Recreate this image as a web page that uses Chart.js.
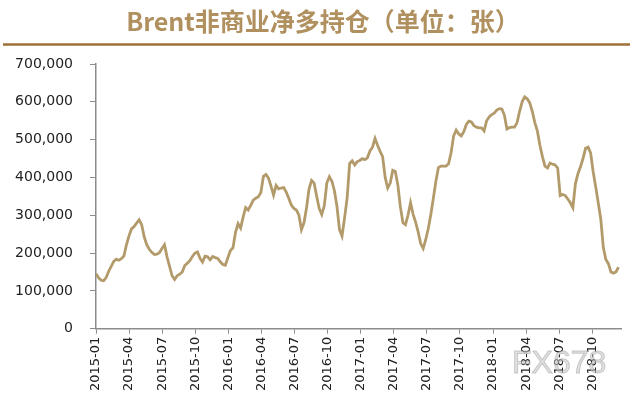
<!DOCTYPE html>
<html>
<head>
<meta charset="utf-8">
<script src="https://cdn.jsdelivr.net/npm/chart.js@4.4.1/dist/chart.umd.min.js"></script>
<style>
  html, body { margin: 0; padding: 0; background: #fff; }
  #wrap { width: 640px; height: 400px; }
</style>
</head>
<body>
<div id="wrap"><canvas id="myChart" width="640" height="400"></canvas></div>
<script>
const titleText = 'Brent非商业净多持仓（单位：张）';
const tickLabels = ['2015-01', '2015-04', '2015-07', '2015-10', '2016-01', '2016-04', '2016-07', '2016-10',
  '2017-01', '2017-04', '2017-07', '2017-10', '2018-01', '2018-04', '2018-07', '2018-10'];
const yTicks = [0, 100000, 200000, 300000, 400000, 500000, 600000, 700000];
// weekly net long positions, first week of 2015-01 onward
const netLong = [
  145000, 135000, 128000, 127000, 135000, 152000, 165000, 178000, 184000, 181000,
  185000, 192000, 222000, 245000, 264000, 270000, 279000, 288000, 275000, 243000,
  222000, 210000, 202000, 196000, 197000, 201000, 212000, 222000, 190000, 165000,
  140000, 130000, 140000, 144000, 150000, 167000, 173000, 180000, 191000, 200000,
  203000, 186000, 176000, 192000, 190000, 182000, 191000, 188000, 186000, 177000,
  170000, 168000, 188000, 207000, 214000, 255000, 278000, 266000, 295000, 320000,
  314000, 326000, 340000, 345000, 349000, 360000, 403000, 408000, 398000, 377000,
  353000, 379000, 370000, 372000, 373000, 361000, 345000, 327000, 318000, 314000,
  300000, 262000, 280000, 320000, 370000, 392000, 385000, 350000, 318000, 302000,
  325000, 385000, 402000, 390000, 365000, 323000, 262000, 245000, 293000, 345000,
  437000, 444000, 433000, 442000, 445000, 450000, 447000, 452000, 470000, 480000,
  503000, 485000, 469000, 455000, 400000, 372000, 385000, 419000, 416000, 380000,
  322000, 280000, 275000, 300000, 333000, 303000, 282000, 256000, 225000, 212000,
  236000, 265000, 302000, 345000, 390000, 426000, 430000, 430000, 430000, 436000,
  466000, 510000, 525000, 515000, 510000, 521000, 540000, 549000, 547000, 537000,
  533000, 531000, 531000, 523000, 550000, 560000, 566000, 570000, 578000, 582000,
  581000, 565000, 528000, 532000, 533000, 533000, 545000, 575000, 600000, 613000,
  608000, 597000, 575000, 545000, 523000, 485000, 455000, 430000, 425000, 438000,
  435000, 433000, 425000, 352000, 355000, 352000, 343000, 333000, 320000, 383000,
  410000, 428000, 450000, 477000, 480000, 465000, 415000, 375000, 333000, 290000,
  215000, 183000, 172000, 150000, 147000, 150000, 163000
];

const DAYS_PER_MONTH = 30.4375;
const points = netLong.map((v, i) => ({ x: i * 7 / DAYS_PER_MONTH, y: v }));

const decor = {
  id: 'decor',
  beforeDraw(chart) {
    const ctx = chart.ctx;
    ctx.save();
    ctx.fillStyle = '#b1905f';
    ctx.font = 'bold 25px "Noto Sans CJK SC", "Noto Sans", sans-serif';
    ctx.textAlign = 'center';
    ctx.textBaseline = 'middle';
    ctx.fillText(titleText, 323, 21);
    ctx.strokeStyle = '#9e7038';
    ctx.lineWidth = 2.5;
    ctx.beginPath();
    ctx.moveTo(3, 44.5);
    ctx.lineTo(630, 44.5);
    ctx.stroke();
    ctx.restore();
  },
  afterDraw(chart) {
    const ctx = chart.ctx;
    ctx.save();
    ctx.font = '32px "Liberation Sans", Arial, sans-serif';
    ctx.textAlign = 'left';
    ctx.textBaseline = 'middle';
    ctx.fillStyle = 'rgba(200,200,200,0.55)';
    ctx.strokeStyle = 'rgba(160,160,160,0.5)';
    ctx.lineWidth = 1;
    ctx.fillText('FX678', 512, 364);
    ctx.strokeText('FX678', 512, 364);
    ctx.restore();
  }
};

const config = {
  type: 'line',
  data: {
    datasets: [{
      label: titleText,
      data: points,
      borderColor: '#b39a6b',
      borderWidth: 2.8,
      pointRadius: 0,
      tension: 0,
      fill: false
    }]
  },
  options: {
    responsive: false,
    animation: false,
    events: [],
    layout: { padding: { top: 64, left: 13, right: 19, bottom: 6 } },
    plugins: {
      legend: { display: false },
      title: { display: false },
      tooltip: { enabled: false }
    },
    scales: {
      x: {
        type: 'linear',
        min: 0,
        max: 47.6,
        afterBuildTicks: (scale) => {
          scale.ticks = tickLabels.map((_, k) => ({ value: k * 3 }));
        },
        ticks: {
          autoSkip: false,
          maxRotation: 90,
          minRotation: 90,
          padding: 3,
          color: '#222',
          font: { family: '"DejaVu Sans", sans-serif', size: 13 },
          callback: (value, index) => tickLabels[index]
        },
        grid: { drawOnChartArea: false, drawTicks: true, tickLength: 5, color: '#8c8c8c' },
        border: { color: '#8c8c8c', width: 1.5 }
      },
      y: {
        min: 0,
        max: 700000,
        afterBuildTicks: (scale) => {
          scale.ticks = yTicks.map((v) => ({ value: v }));
        },
        afterFit: (scale) => {
          scale.width = 83;
        },
        ticks: {
          padding: 17,
          color: '#222',
          font: { family: '"DejaVu Sans", sans-serif', size: 14 },
          callback: (value) => value.toLocaleString('en-US')
        },
        grid: { drawOnChartArea: false, drawTicks: true, tickLength: 6, color: '#8c8c8c' },
        border: { color: '#8c8c8c', width: 1.5 }
      }
    }
  },
  plugins: [decor]
};

const myChart = new Chart(document.getElementById('myChart'), config);
</script>
</body>
</html>
